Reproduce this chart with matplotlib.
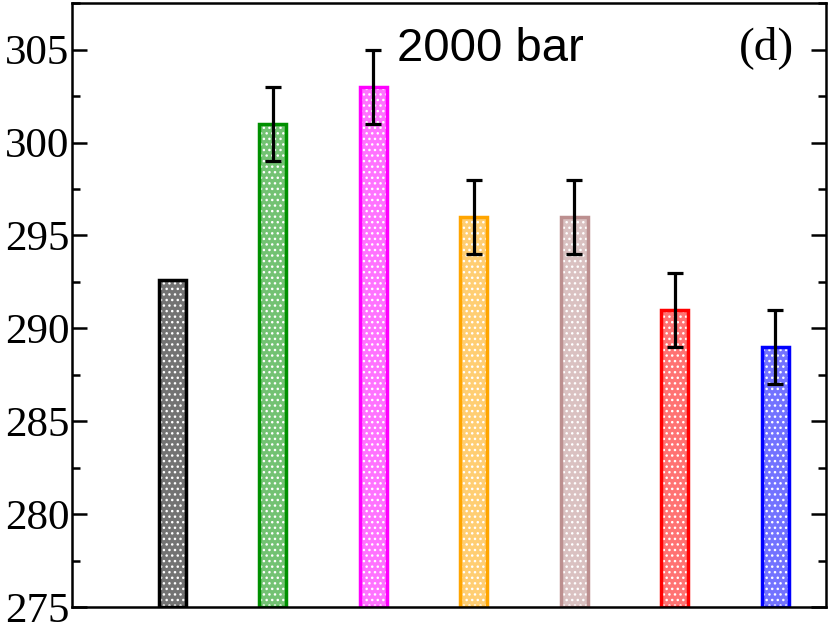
import numpy as np
import matplotlib.pyplot as plt
import matplotlib.colors as mcolors
from matplotlib.ticker import MultipleLocator

# bar values
positions = [1, 2, 3, 4, 5, 6, 7]
values = [292.6, 301, 303, 296, 296, 291, 289]
errors = [0, 2, 2, 2, 2, 2, 2]
colors = ["black", "#009000", "#ff00ff", "#ffa500", "#bc8f8f", "#ff0000", "#0000ff"]

plt.rcParams["hatch.linewidth"] = 1.0

fig = plt.figure(figsize=(8.3, 6.24), dpi=100)
ax = fig.add_axes([0.0867, 0.027, 0.908, 0.968])

for x, v, e, c in zip(positions, values, errors, colors):
    rgb = np.array(mcolors.to_rgb(c))
    tint = rgb * 0.55 + 0.45
    # tinted fill with dotted texture
    ax.bar(x, v - 275, bottom=275, width=0.27, color=tint, edgecolor="white",
           hatch="...", linewidth=0)
    # outline
    ax.bar(x, v - 275, bottom=275, width=0.27, fill=False, edgecolor=c,
           linewidth=2.5)
    if e > 0:
        ax.errorbar(x, v, yerr=e, fmt="none", ecolor="black", elinewidth=2.3,
                    capsize=6, capthick=2.3, zorder=5)

ax.set_xlim(0, 7.5)
ax.set_ylim(275, 307.5)
ax.set_xticks([])
ax.yaxis.set_major_locator(MultipleLocator(5))
ax.yaxis.set_minor_locator(MultipleLocator(2.5))
ax.tick_params(axis="y", which="major", direction="in", length=11, width=1.8,
               right=True, labelsize=31, pad=2)
ax.tick_params(axis="y", which="minor", direction="in", length=5.5, width=1.8,
               right=True)
for lab in ax.get_yticklabels():
    lab.set_fontfamily("Liberation Serif")
for sp in ax.spines.values():
    sp.set_linewidth(1.8)

ax.text(0.555, 0.96, "2000 bar", transform=ax.transAxes, ha="center", va="top",
        fontsize=34, fontfamily="Liberation Sans")
ax.text(0.922, 0.962, "(d)", transform=ax.transAxes, ha="center", va="top",
        fontsize=34, fontfamily="Liberation Serif")

fig.savefig("out.png", dpi=100)
